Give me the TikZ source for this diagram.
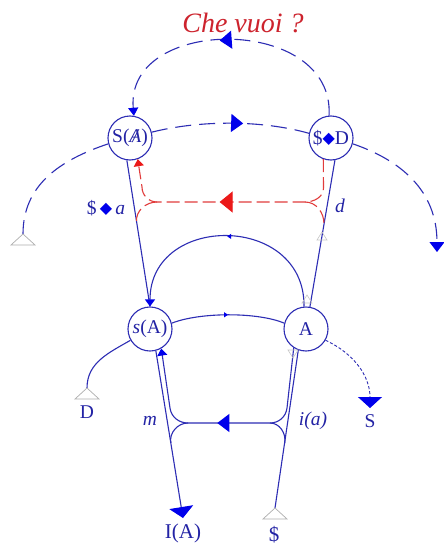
\documentclass[tikz,border=0pt]{standalone}
\usepackage{fontspec}
\setmainfont{Liberation Serif}
\newfontfamily\symfont{DejaVu Sans}
\usetikzlibrary{arrows.meta,decorations.markings}
\definecolor{lineblue}{RGB}{45,45,180}
\definecolor{txtblue}{RGB}{35,35,165}
\definecolor{fillblue}{RGB}{0,0,235}
\definecolor{dashred}{RGB}{225,60,60}
\definecolor{arrred}{RGB}{235,25,25}
\definecolor{chered}{RGB}{205,35,45}
\definecolor{trigray}{RGB}{175,175,175}
\newcommand{\mydmd}{\raisebox{0.5pt}{\symfont\fontsize{16}{16}\selectfont\textcolor{fillblue}{◆}}}
\newcommand{\barA}{\rlap{\itshape A}\hspace{0.16em}{\itshape /}\hspace{0.17em}}
\begin{document}
\begin{tikzpicture}[x=1pt,y=-1pt,
  ln/.style={draw=lineblue, line width=1.1pt},
  bigdash/.style={ln, dash pattern=on 16pt off 8pt},
  reddash/.style={draw=dashred, line width=1.1pt, dash pattern=on 13pt off 5pt},
  dotl/.style={ln, line width=0.9pt, dash pattern=on 3pt off 2pt},
  circ/.style={circle, draw=lineblue, line width=1.1pt, minimum size=44pt, inner sep=0pt, text=txtblue, font=\fontsize{19.5}{20}\selectfont},
  lab/.style={text=txtblue, font=\fontsize{19.5}{20}\selectfont, inner sep=0pt},
  midtick/.style={postaction={decorate}, decoration={markings, mark=at position 0.5 with {\arrow{Triangle[width=5pt,length=4pt,color=fillblue]}}}},
  bigmark/.style={postaction={decorate}, decoration={markings, mark=at position #1 with {\arrow{Triangle[width=18pt,length=12pt,color=fillblue]}}}},
  redmark/.style={postaction={decorate}, decoration={markings, mark=at position #1 with {\arrow{Triangle[width=21pt,length=13pt,color=arrred]}}}},
  bigotri/.pic={\draw[draw=trigray, line width=0.7pt, fill=white] (0,0) -- (-12,11) -- (12,11) -- cycle;},
  smallotri/.pic={\draw[draw=trigray!70, line width=0.6pt] (0,0) -- (-5,8) -- (5,8) -- cycle;}
]
\fill[white] (0,0) rectangle (444,546);
\useasboundingbox (0,0) rectangle (444,546);

% nodes
\node[circ] (SA) at (130,138) {S(\barA)};
\node[circ] (SD) at (331,138) {\$\mydmd D};
\node[circ] (sA) at (150,329) {\textit{s}(A)};
\node[circ] (A) at (306,329) {A};

% labels
\node[lab, text=chered, font=\itshape\fontsize{28}{30}\selectfont] (che) at (243,23) {Che vuoi ?};
\node[lab] (salab) at (106,208) {\$\,\mydmd\,\textit{a}};
\node[lab] (dlab) at (340,206) {\textit{d}};
\node[lab] (mlab) at (150,421) {\textit{m}};
\node[lab] (ialab) at (313,421) {\textit{i(a)}};
\node[lab] (Dlab) at (87,412) {D};
\node[lab] (Slab) at (370,421) {S};
\node[lab, font=\fontsize{21}{22}\selectfont] (IAlab) at (183,533) {I(A)};
\node[lab, font=\fontsize{21}{22}\selectfont] (Sbarlab) at (274,535) {\$};

% free ends and junctions
\coordinate (IAend) at (183,518);
\coordinate (Sbarend) at (275,508);
\coordinate (Dend) at (87,388);
\coordinate (Send) at (370,408);
\coordinate (Lend) at (23,234);
\coordinate (Rend) at (437,252);
\coordinate (jR) at (270,423);
\coordinate (jL) at (188,423);
\coordinate (iR) at (287,408);
\coordinate (iL) at (170,408);
\coordinate (mR) at (284.7,443);
\coordinate (mL) at (170.8,443);
\coordinate (rR) at (305,202);
\coordinate (rL) at (157,202);
\coordinate (rRv) at (323.5,188);
\coordinate (rLv) at (142,187);
\coordinate (rRd) at (324,224);
\coordinate (rLd) at (136.5,222);
\coordinate (g1) at (322,232);
\coordinate (g2) at (307,295);
\coordinate (g3) at (293,358);

% main vertical lines
\draw[ln] (SA.262) -- (sA.north);
\draw[ln, -{Triangle[width=24pt,length=11pt,color=fillblue]}] (sA.285) -- (IAend);
\draw[ln] (SD.280) -- (A.80);
\draw[ln] (Sbarend) -- (A.250);

% arcs between s(A) and A
\draw[ln, midtick, -{Triangle[width=10pt,length=7pt,color=fillblue]}] (A.95) .. controls (305,213) and (150,213) .. (sA.north);
\draw[ln, midtick] (sA.15) .. controls (200,312) and (258,312) .. (A.165);

% lower loop
\draw[ln, bigmark=138pt, -{Triangle[width=10pt,length=7pt,color=fillblue]}] (A.237) -- (iR) to[out=-97,in=0] (jR) -- (jL) to[out=180,in=-82] (iL) -- (sA.300);
\draw[ln] (jR) to[out=0,in=80] (mR);
\draw[ln] (jL) to[out=180,in=100] (mL);

% D and S
\draw[ln] (Dend) to[out=90,in=210] (sA.210);
\draw[dotl, -{Triangle[width=24pt,length=11pt,color=fillblue]}] (A.330) to[out=-25,in=90] (Send);

% upper dashed
\draw[bigdash, bigmark=0.54, -{Triangle[width=10pt,length=8pt,color=fillblue]}] (SD.95) .. controls (335,15) and (125,15) .. (SA.80);
\draw[bigdash, bigmark=0.58] (SA.15) .. controls (200,120) and (262,120) .. (SD.168);
\draw[bigdash] (SA.195) .. controls (60,160) and (23,185) .. (Lend);
\draw[bigdash, -{Triangle[width=15pt,length=10pt,color=fillblue]}] (SD.345) .. controls (400,160) and (437,190) .. (Rend);

% red
\draw[reddash, redmark=140pt, -{Triangle[width=10pt,length=7pt,color=arrred]}] (SD.250) -- (rRv) to[out=-90,in=0] (rR) -- (rL) to[out=180,in=-90] (rLv) -- (SA.290);
\draw[reddash] (rR) to[out=0,in=90] (rRd);
\draw[reddash] (rL) to[out=180,in=95] (rLd);

% open triangles
\pic at (Lend) {bigotri};
\pic at (Dend) {bigotri};
\pic at (Sbarend) {bigotri};
\pic at (g1) {smallotri};
\pic at (g2) {smallotri};
\pic[rotate=180] at (g3) {smallotri};
\end{tikzpicture}
\end{document}
